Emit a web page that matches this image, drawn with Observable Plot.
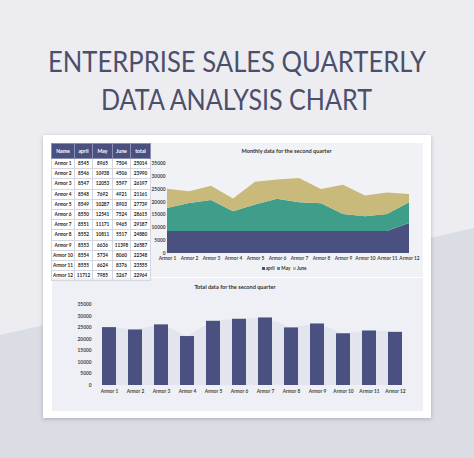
<!DOCTYPE html>
<html>
<head>
<meta charset="utf-8">
<script src="https://cdn.jsdelivr.net/npm/d3@7"></script>
<script src="https://cdn.jsdelivr.net/npm/@observablehq/plot@0.6"></script>
<style>
html,body{margin:0;padding:0;}
body{width:474px;height:458px;position:relative;overflow:hidden;background:#ededf1;font-family:Lato,"Noto Sans",sans-serif;}
#bg{position:absolute;left:0;top:0;}
#card{position:absolute;left:43px;top:135px;width:388px;height:283px;background:#fff;box-shadow:0 1px 4px rgba(80,85,110,0.35);}
.panel{position:absolute;}
#areaPanel{left:150px;top:143px;width:273px;height:134px;background:#f1f2f6;}
#barPanel{left:52px;top:278px;width:371px;height:133px;background:#eef0f5;}
.ctitle{position:absolute;font-size:5.6px;font-weight:700;color:#333;text-align:center;white-space:nowrap;}
#tbl{position:absolute;left:51px;top:143px;width:94px;border-collapse:collapse;font-size:4.7px;font-weight:700;color:#222;table-layout:fixed;}
#tbl td,#tbl th{border:0.6px solid #d4d6e0;padding:0;text-align:center;height:9.2px;line-height:9px;overflow:hidden;white-space:nowrap;}
#tbl th{background:#4a5080;color:#fff;height:14px;font-size:5.2px;border-color:#8a8fb0;}
#legend{position:absolute;top:265px;left:259px;font-size:4.6px;font-weight:700;color:#333;white-space:nowrap;}
#legend span.sw{display:inline-block;width:3px;height:3px;margin:0 1.2px 0 2.5px;vertical-align:middle;}
.plotbox{position:absolute;}
</style>
</head>
<body>
<svg id="bg" width="474" height="458">
  <polygon points="0,335 474,228 474,458 0,458" fill="#dadde3"></polygon>
  <text x="48" y="72" textLength="378" lengthAdjust="spacingAndGlyphs" font-family="Lato" font-size="28" fill="#4b4f6b">ENTERPRISE SALES QUARTERLY</text>
  <text x="101" y="110" textLength="271" lengthAdjust="spacingAndGlyphs" font-family="Lato" font-size="28" fill="#4b4f6b">DATA ANALYSIS CHART</text>
</svg>
<div id="card"></div>
<div class="panel" id="areaPanel"></div>
<div class="panel" id="barPanel"></div>
<table id="tbl"></table>
<div class="ctitle" style="left:150px;width:273px;top:147px;">Monthly data for the second quarter</div>
<div class="ctitle" style="left:52px;width:366px;top:283px;">Total data for the second quarter</div>
<div id="legend"></div>
<div class="plotbox" id="areaBox" style="left:150px;top:155px;"></div>
<div class="plotbox" id="barBox" style="left:52px;top:278px;"></div>
<script>
const names = ["Armor 1","Armor 2","Armor 3","Armor 4","Armor 5","Armor 6","Armor 7","Armor 8","Armor 9","Armor 10","Armor 11","Armor 12"];
const april = [8545,8546,8547,8548,8549,8550,8551,8552,8553,8554,8555,11712];
const may = [8965,10938,12053,7692,10287,12541,11171,10811,6636,5734,6624,7985];
const june = [7504,4506,5597,4921,8903,7524,9465,5517,11398,8060,8376,3267];
const total = [25014,23990,26197,21161,27739,28615,29187,24880,26587,22348,23555,22964];
const seriesNames = ["april","May","June"];
const seriesColors = ["#4a5080","#3f9e8a","#c9b97b"];
const yTicks = [0,5000,10000,15000,20000,25000,30000,35000];
const headers = ["Name","april","May","June","total"];

// table
const tbl = document.getElementById("tbl");
const colW = [22,17,19,17,19];
let html = "<tr>" + headers.map((h,i)=>`<th style="width:${colW[i]}px">${h}</th>`).join("") + "</tr>";
names.forEach((n,i)=>{
  html += `<tr><td>${n}</td><td>${april[i]}</td><td>${may[i]}</td><td>${june[i]}</td><td>${total[i]}</td></tr>`;
});
tbl.innerHTML = html;

// legend
document.getElementById("legend").innerHTML = seriesNames.map((s,i)=>`<span class="sw" style="background:${seriesColors[i]}"></span>${s}`).join("");

const seriesArrays = [april, may, june];
const long = [];
seriesNames.forEach((s,k)=>names.forEach((n,i)=>long.push({name:n, series:s, value:seriesArrays[k][i]})));
const totals = names.map((n,i)=>({name:n, total:total[i]}));

const style = {fontSize:"4.8px", fontFamily:"Lato, 'Noto Sans', sans-serif", fontWeight:"700", color:"#444", background:"transparent", overflow:"visible"};

const areaChart = Plot.plot({
  width:273, height:110,
  marginTop:8, marginBottom:12, marginLeft:17, marginRight:14,
  style,
  x:{type:"point", domain:names, padding:0, label:null, tickSize:0, tickPadding:3},
  y:{domain:[0,35000], ticks:yTicks, tickFormat:"d", label:null, tickSize:0, tickPadding:2},
  color:{domain:seriesNames, range:seriesColors},
  marks:[
    Plot.areaY(long, {x:"name", y:"value", fill:"series", order:seriesNames})
  ]
});
document.getElementById("areaBox").appendChild(areaChart);

const barChart = Plot.plot({
  width:371, height:133,
  marginTop:26, marginBottom:26, marginLeft:41, marginRight:11,
  style,
  x:{type:"band", domain:names, paddingInner:0.45, paddingOuter:0.2, label:null, tickSize:0, tickPadding:4},
  y:{domain:[0,35000], ticks:yTicks, tickFormat:"d", label:null, tickSize:0, tickPadding:2},
  marks:[
    Plot.areaY(totals, {x:"name", y:"total", fill:"#e2e4ee"}),
    Plot.barY(totals, {x:"name", y:"total", fill:"#4a5080"})
  ]
});
document.getElementById("barBox").appendChild(barChart);
</script>
</body>
</html>
